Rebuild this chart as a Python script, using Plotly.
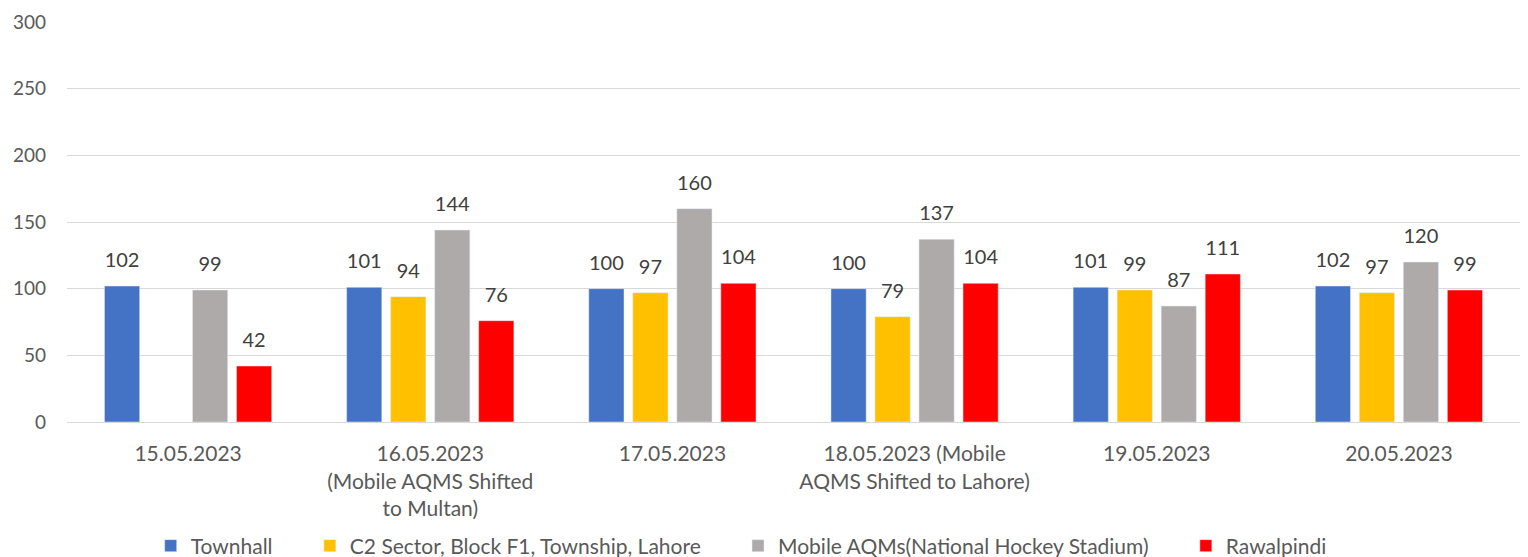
import plotly.graph_objects as go

categories = [
    "15.05.2023",
    "16.05.2023<br>(Mobile AQMS Shifted<br>to Multan)",
    "17.05.2023",
    "18.05.2023 (Mobile<br>AQMS Shifted to Lahore)",
    "19.05.2023",
    "20.05.2023",
]
townhall = [102, 101, 100, 100, 101, 102]
c2_sector = [None, 94, 97, 79, 99, 97]
mobile_aqms = [99, 144, 160, 137, 87, 120]
rawalpindi = [42, 76, 104, 104, 111, 99]

series = [
    ("Townhall", townhall, "#4472C4"),
    ("C2 Sector, Block F1, Township, Lahore", c2_sector, "#FFC000"),
    ("Mobile AQMs(National Hockey Stadium)", mobile_aqms, "#AEAAAA"),
    ("Rawalpindi", rawalpindi, "#FF0000"),
]

FONT = "Lato, Liberation Sans, sans-serif"
PAD = "\u00a0" * 6
BARGAP = 0.273
fig = go.Figure()
for i, (name, vals, color) in enumerate(series):
    fig.add_trace(go.Bar(
        name=name + (PAD if i < len(series) - 1 else ""), x=categories, y=vals,
        marker_color=color, hoverinfo="y+name", offsetgroup=str(i),
    ))
# data labels, aligned with the grouped bars
for i, (name, vals, color) in enumerate(series):
    fig.add_trace(go.Scatter(
        x=categories, y=vals, mode="markers+text", showlegend=False, hoverinfo="skip",
        marker=dict(size=21, color="rgba(0,0,0,0)"),
        text=[("" if v is None else str(v)) for v in vals],
        textposition="top center", cliponaxis=False,
        textfont=dict(family=FONT, size=20, color="#404040"),
        offsetgroup=str(i),
    ))

fig.update_layout(
    width=1528, height=557,
    margin=dict(l=67, r=8, t=22, b=135, autoexpand=False),
    paper_bgcolor="white", plot_bgcolor="white",
    barmode="group", bargap=BARGAP, bargroupgap=0.2,
    scattermode="group", scattergap=BARGAP,
    font=dict(family=FONT, size=19, color="#595959"),
    showlegend=True,
    legend=dict(orientation="h", x=0.464, xanchor="center", y=-0.31, yanchor="middle",
                font=dict(family=FONT, size=21, color="#595959"), itemclick=False),
    xaxis=dict(showgrid=False, showline=True, linecolor="#D9D9D9", linewidth=1,
               ticks="", tickfont=dict(size=21, color="#595959"), automargin=False,
               ticklabelstandoff=13),
    yaxis=dict(range=[0, 300], dtick=50, showgrid=True, gridcolor="#D9D9D9", gridwidth=1,
               zeroline=False, showline=False, ticks="", tickfont=dict(size=19, color="#595959"),
               ticklabelstandoff=20, automargin=False),
)
fig.write_html("out.html", config={"displayModeBar": False},
               post_script="document.body.style.margin='0';document.body.style.overflow='hidden';")
